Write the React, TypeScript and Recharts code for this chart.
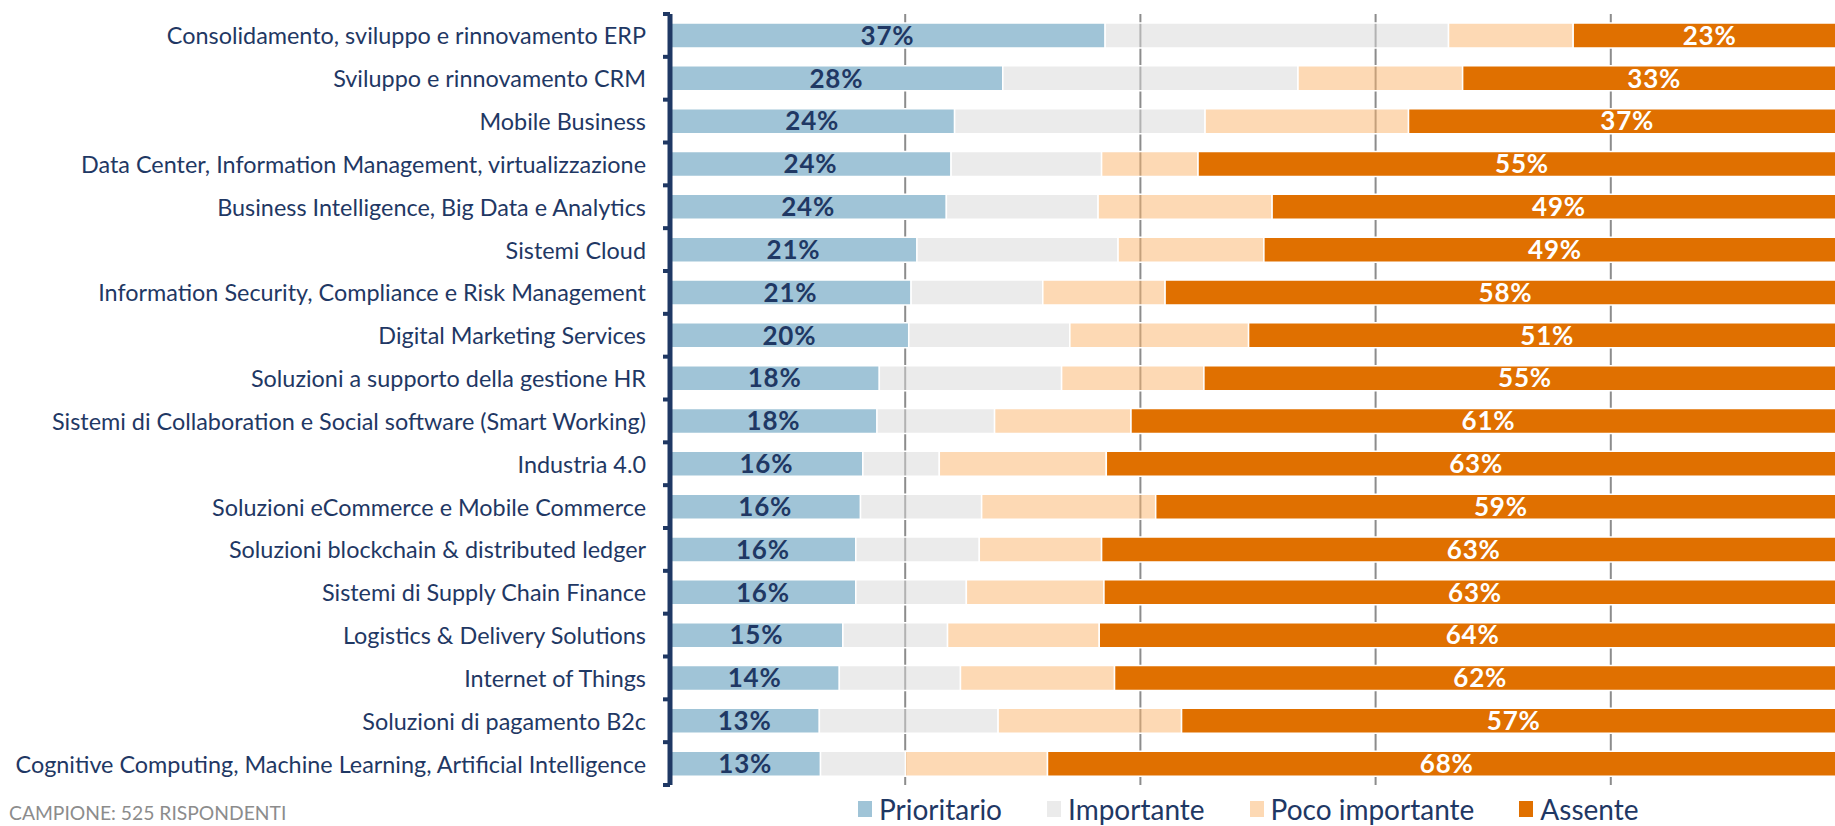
import React from 'react';
import { BarChart, Bar, XAxis, YAxis, CartesianGrid, LabelList, Legend } from 'recharts';

const categories = [
  'Consolidamento, sviluppo e rinnovamento ERP',
  'Sviluppo e rinnovamento CRM',
  'Mobile Business',
  'Data Center, Information Management, virtualizzazione',
  'Business Intelligence, Big Data e Analytics',
  'Sistemi Cloud',
  'Information Security, Compliance e Risk Management',
  'Digital Marketing Services',
  'Soluzioni a supporto della gestione HR',
  'Sistemi di Collaboration e Social software (Smart Working)',
  'Industria 4.0',
  'Soluzioni eCommerce e Mobile Commerce',
  'Soluzioni blockchain & distributed ledger',
  'Sistemi di Supply Chain Finance',
  'Logistics & Delivery Solutions',
  'Internet of Things',
  'Soluzioni di pagamento B2c',
  'Cognitive Computing, Machine Learning, Artificial Intelligence',
];

const prioritario = [37, 28.3, 24.2, 23.9, 23.5, 21, 20.5, 20.3, 17.8, 17.6, 16.4, 16.2, 15.8, 15.8, 14.7, 14.4, 12.7, 12.8];
const importante = [29.2, 25.1, 21.3, 12.8, 12.9, 17.1, 11.2, 13.7, 15.5, 10, 6.5, 10.3, 10.5, 9.4, 8.9, 10.3, 15.2, 7.2];
const pocoImportante = [10.6, 14, 17.3, 8.2, 14.8, 12.4, 10.4, 15.2, 12.1, 11.6, 14.2, 14.8, 10.4, 11.7, 12.9, 13.1, 15.6, 12.1];
const assente = [23.2, 32.6, 37.2, 55.1, 48.8, 49.5, 57.9, 50.8, 54.6, 60.8, 62.9, 58.7, 63.3, 63.1, 63.5, 62.2, 56.5, 67.9];

const prioritarioLabels = [37, 28, 24, 24, 24, 21, 21, 20, 18, 18, 16, 16, 16, 16, 15, 14, 13, 13];
const assenteLabels = [23, 33, 37, 55, 49, 49, 58, 51, 55, 61, 63, 59, 63, 63, 64, 62, 57, 68];

const seriesNames = ['Prioritario', 'Importante', 'Poco importante', 'Assente'];
const gridTicks = [20, 40, 60, 80];
const footnote = 'CAMPIONE: 525 RISPONDENTI';

const data = categories.map((name, i) => ({
  name,
  prioritario: prioritario[i],
  importante: importante[i],
  poco: pocoImportante[i],
  assente: assente[i],
  prioritarioLabel: `${prioritarioLabels[i]}%`,
  assenteLabel: `${assenteLabels[i]}%`,
}));

const NAVY = '#1F3864';
const FONT = 'Lato, "Open Sans", sans-serif';
const COLORS = ['#A0C4D7', '#D8D8D8', '#FBB46A', '#E07000'];
const OPAC = [1, 0.5, 0.5, 1];
const LEGEND_COLORS = ['#A0C4D7', '#EBEBEB', '#FDD9B4', '#E07000'];

const CHART_W = 1846;
const CHART_H = 826;
const MARGIN = { top: 14, right: 0, bottom: 41, left: 0 };
const Y_W = 670;
const BAND = (CHART_H - MARGIN.top - MARGIN.bottom) / categories.length;

const CategoryTick = (props: any) => {
  const { y, payload, index } = props;
  const axisX = Y_W;
  const top = y - BAND / 2;
  const bottom = y + BAND / 2;
  return (
    <g>
      <text
        x={axisX - 24}
        y={y}
        textAnchor="end"
        dominantBaseline="central"
        fill={NAVY}
        fontFamily={FONT}
        fontSize={23.4}
      >
        {payload.value}
      </text>
      <line x1={axisX - 7} x2={axisX} y1={top} y2={top} stroke={NAVY} strokeWidth={4} />
      {index === categories.length - 1 && (
        <line x1={axisX - 7} x2={axisX} y1={bottom} y2={bottom} stroke={NAVY} strokeWidth={4} />
      )}
    </g>
  );
};

const LegendContent = () => (
  <div style={{ display: 'flex', alignItems: 'center', fontFamily: FONT, fontSize: 28, color: NAVY, lineHeight: '30px' }}>
    {seriesNames.map((n, i) => (
      <div key={n} style={{ display: 'flex', alignItems: 'center', marginRight: 45 }}>
        <span style={{ display: 'inline-block', width: 14, height: 16, background: LEGEND_COLORS[i], marginRight: 7 }} />
        <span>{n}</span>
      </div>
    ))}
  </div>
);

export default function App() {
  return (
    <div style={{ position: 'absolute', left: 0, top: 0, width: 1835, height: 826, overflow: 'hidden', background: '#fff' }}>
      <BarChart width={CHART_W} height={CHART_H} data={data} layout="vertical" margin={MARGIN} barSize={25}>
        <CartesianGrid horizontal={false} vertical={true} stroke="#8C8C8C" strokeWidth={2} />
        <XAxis type="number" domain={[0, 100]} ticks={gridTicks} hide />
        <YAxis
          type="category"
          dataKey="name"
          width={Y_W}
          interval={0}
          tickLine={false}
          axisLine={{ stroke: NAVY, strokeWidth: 5 }}
          tick={<CategoryTick />}
        />
        <Bar dataKey="prioritario" name={seriesNames[0]} stackId="a" fill={COLORS[0]} fillOpacity={OPAC[0]} stroke="#fff" strokeWidth={1.5} isAnimationActive={false}>
          <LabelList dataKey="prioritarioLabel" position="center" fill={NAVY} fontFamily={FONT} fontWeight={700} fontSize={26} letterSpacing={0.8} />
        </Bar>
        <Bar dataKey="importante" name={seriesNames[1]} stackId="a" fill={COLORS[1]} fillOpacity={OPAC[1]} stroke="#fff" strokeWidth={1.5} isAnimationActive={false} />
        <Bar dataKey="poco" name={seriesNames[2]} stackId="a" fill={COLORS[2]} fillOpacity={OPAC[2]} stroke="#fff" strokeWidth={1.5} isAnimationActive={false} />
        <Bar dataKey="assente" name={seriesNames[3]} stackId="a" fill={COLORS[3]} fillOpacity={OPAC[3]} stroke="#fff" strokeWidth={1.5} isAnimationActive={false}>
          <LabelList dataKey="assenteLabel" position="center" fill="#FFFFFF" fontFamily={FONT} fontWeight={700} fontSize={26} letterSpacing={0.8} />
        </Bar>
        <Legend
          layout="horizontal"
          verticalAlign="middle"
          align="center"
          content={<LegendContent />}
          wrapperStyle={{ position: 'absolute', left: 858, top: 794, width: 960, height: 30 }}
        />
      </BarChart>
      <div style={{ position: 'absolute', left: 9, top: 802, fontFamily: FONT, fontSize: 19.3, lineHeight: '22px', color: '#8C8C8C', whiteSpace: 'nowrap' }}>
        {footnote}
      </div>
    </div>
  );
}
